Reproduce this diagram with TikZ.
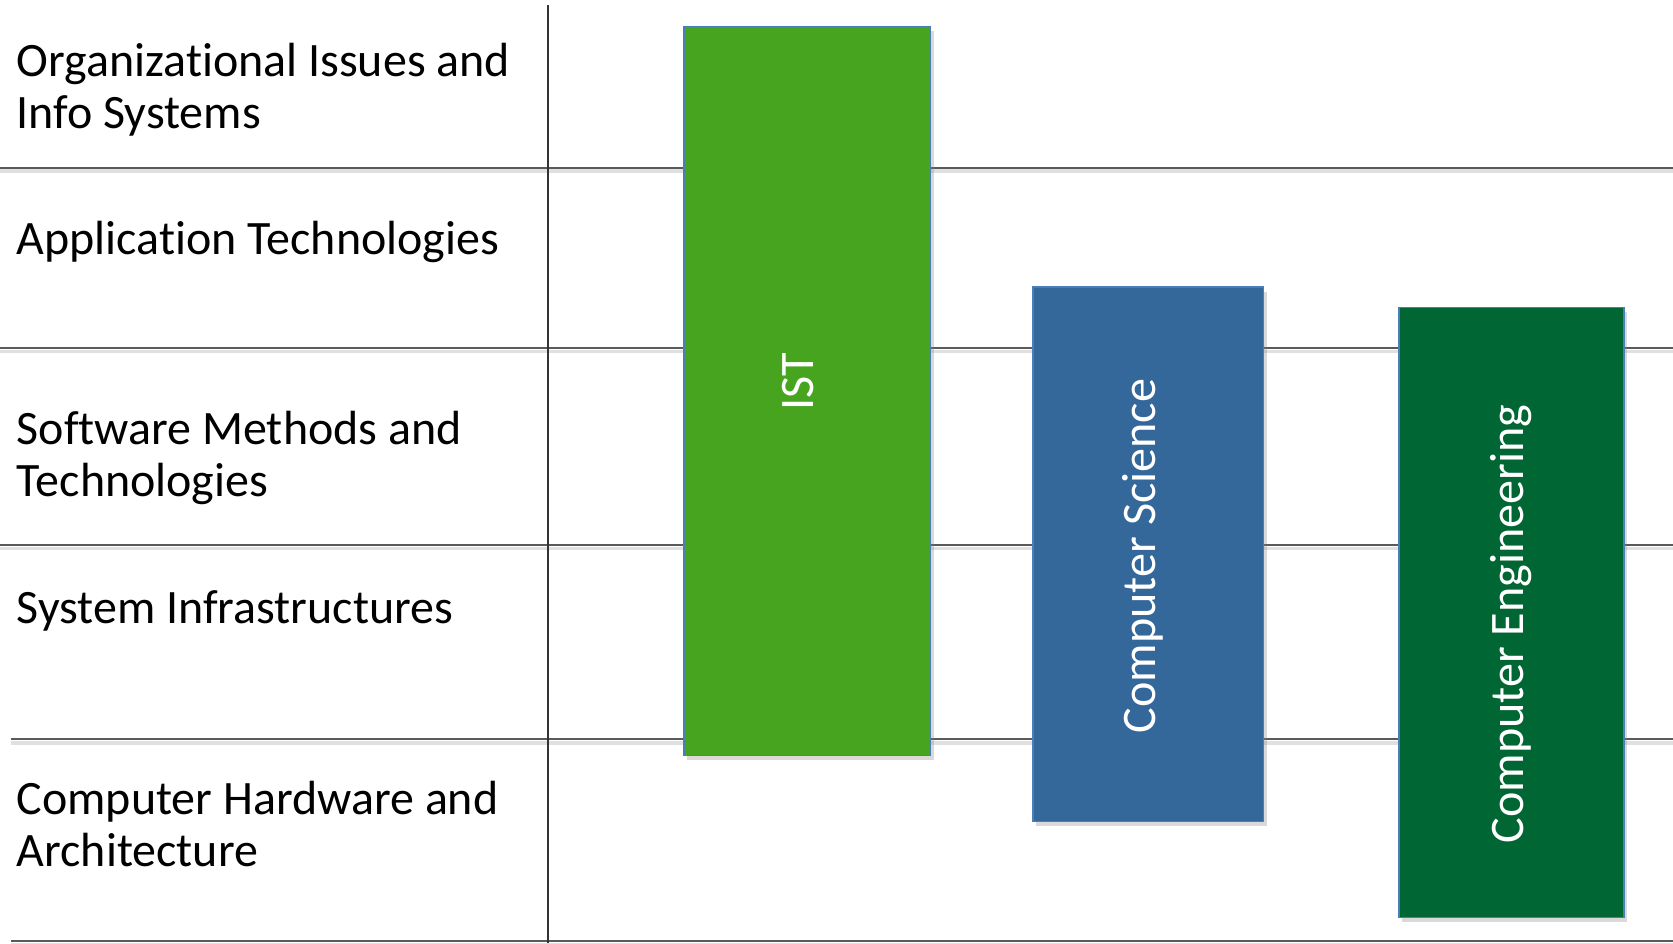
\documentclass[tikz,border=0pt]{standalone}
\usepackage{fontspec}
\setmainfont{Carlito}[Ligatures=NoCommon]
\usetikzlibrary{shadows}

\definecolor{istgreen}{HTML}{47A41E}
\definecolor{csblue}{HTML}{34679A}
\definecolor{cegreen}{HTML}{006633}
\definecolor{boxedge}{HTML}{4A7EBB}
\definecolor{rowgray}{HTML}{5A5A5A}

\tikzset{
  rowline/.style={draw=rowgray, line width=0.2mm,
    preaction={draw=black!12, line width=0.35mm, transform canvas={yshift=-0.35mm}}},
  area/.style={anchor=west, align=left, inner sep=0pt,
    font=\fontsize{13.65pt}{14.8pt}\selectfont},
  degree/.style={draw=boxedge, line width=0.15mm, inner sep=0pt,
    drop shadow={opacity=0.3, shadow xshift=0.35mm, shadow yshift=-0.45mm}},
  degreetext/.style={rotate=90, inner sep=0pt, text=white,
    font=\fontsize{13.7pt}{15pt}\selectfont}
}

\begin{document}
\begin{tikzpicture}[x=0.1mm, y=-0.1mm]
			\useasboundingbox (0,0) rectangle (1673,943);

			\coordinate (r1w) at (0,167.5);
			\coordinate (r1e) at (1673,167.5);
			\coordinate (r2w) at (0,347.8);
			\coordinate (r2e) at (1673,347.8);
			\coordinate (r3w) at (0,545.2);
			\coordinate (r3e) at (1673,545.2);
			\coordinate (r4w) at (11,739.4);
			\coordinate (r4e) at (1673,739.4);
			\coordinate (r5w) at (11,941);
			\coordinate (r5e) at (1673,941);
			\coordinate (colt) at (548,5);
			\coordinate (colb) at (548,943);

			% Draw the grid
			\draw[rowline] (r1w) -- (r1e);
			\draw[rowline] (r2w) -- (r2e);
			\draw[rowline] (r3w) -- (r3e);
			\draw[rowline] (r4w) -- (r4e);
			\draw[rowline] (r5w) -- (r5e);
			\draw[black!80, line width=0.15mm] (colt) -- (colb);

			% Label the rows
			\node[area] (orgis) at (16,90) {Organizational Issues and\\Info Systems};
			\node[area] (apptech) at (16,242) {Application Technologies};
			\node[area] (swmeth) at (16,458) {Software Methods and\\Technologies};
			\node[area] (sysinf) at (16,611) {System Infrastructures};
			\node[area] (hwarch) at (16,824) {Computer Hardware and\\Architecture};

			% Draw the degree bars
			\node[degree, fill=istgreen, minimum width=24.64mm, minimum height=72.87mm] (ist) at (807.1,391) {};
			\node[degree, fill=csblue, minimum width=23.05mm, minimum height=53.45mm] (cs) at (1148,554.3) {};
			\node[degree, fill=cegreen, minimum width=22.51mm, minimum height=61.02mm] (ce) at (1511.3,612.4) {};

			% Label the bars
			\node[degreetext] (isttext) at (798,382) {IST};
			\node[degreetext] (cstext) at (1142.6,556) {Computer Science};
			\node[degreetext] (cetext) at (1510.7,624) {Computer Engineering};

		\end{tikzpicture}
\end{document}
